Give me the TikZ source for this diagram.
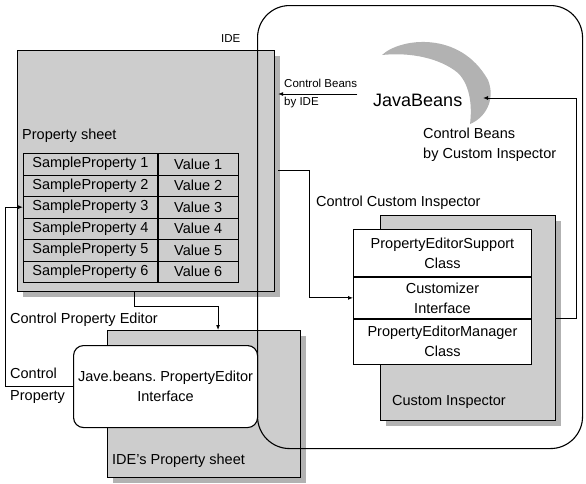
\documentclass[tikz,border=0pt]{standalone}
\usepackage{fontspec}
\setmainfont{Liberation Sans}
\usetikzlibrary{arrows.meta,shadows,calc}
\definecolor{raster}{RGB}{205,205,205}
\definecolor{rastershade}{RGB}{178,178,178}

\tikzset{
  sheet/.style={draw, line width=1.1pt, fill=raster, anchor=north west, inner sep=0pt,
    drop shadow={shadow xshift=5pt, shadow yshift=-5pt, fill=rastershade, opacity=1}},
  cell/.style={draw, line width=0.8pt, anchor=north west, inner sep=0pt, minimum height=21.5pt},
  partbox/.style={draw, line width=0.9pt, fill=white, anchor=north west, inner sep=0pt,
    minimum width=178pt, align=center},
  conn/.style={line width=0.9pt, -{Latex[length=5pt, width=4pt]}},
  txt/.style={inner sep=0pt, anchor=west, align=left},
  small/.style={font=\fontsize{11.5}{18}\selectfont},
}

\begin{document}
\begin{tikzpicture}[x=1pt, y=-1pt, font=\fontsize{14.5}{20}\selectfont]

    \useasboundingbox (0,0) rectangle (586,483);

    % gray sheets
    \node[sheet, minimum width=257pt, minimum height=241pt] (propsheet) at (17,50) {};
    \node[sheet, minimum width=193pt, minimum height=147pt] (ideps) at (107,330) {};
    \node[sheet, minimum width=175pt, minimum height=205pt] (inspector) at (380,215) {};

    % JavaBeans area
    \node[draw, line width=1.1pt, rounded corners=32pt, anchor=north west, inner sep=0pt,
          minimum width=325pt, minimum height=443pt] (beanarea) at (257,5) {};
    \fill[rastershade] (382,55) .. controls (400,38) and (460,30) .. (488,80)
        .. controls (496,100) and (485,118) .. (470,124)
        .. controls (472,108) and (471,86) .. (458,73)
        .. controls (440,58) and (410,52) .. (382,55);

    % property table
    \foreach \i [evaluate=\i as \ty using 153+(\i-1)*21.5] in {1,...,6} {
        \node[cell, minimum width=134pt] (sp\i) at (23,\ty) {SampleProperty \i};
        \node[cell, minimum width=80pt] (val\i) at (sp\i.north east) {Value \i};
    }

    % white boxes
    \node[draw, line width=1.1pt, fill=white, rounded corners=10pt, anchor=north west, inner sep=0pt,
          minimum width=184pt, minimum height=82pt, align=center] (pe) at (73,345)
          {Jave.beans.\ PropertyEditor\\Interface};
    \node[partbox, minimum height=47pt] (pes) at (353,229) {PropertyEditorSupport\\Class};
    \node[partbox, minimum height=41pt] (custz) at (pes.south west) {Customizer\\Interface};
    \node[partbox, minimum height=45pt] (pem) at (custz.south west) {PropertyEditorManager\\Class};

    % labels
    \node[txt, small] (idelbl) at (221,39) {IDE};
    \node[txt] (pslbl) at (22,136) {Property sheet};
    \node[txt, small] (cbide) at (284,94) {Control Beans\\by IDE};
    \node[txt, font=\fontsize{18}{20}\selectfont] (jb) at (373,100) {JavaBeans};
    \node[txt] (cbci) at (423,145) {Control Beans\\by Custom Inspector};
    \node[txt] (ccilbl) at (316,203) {Control Custom Inspector};
    \node[txt] (cpelbl) at (10,320) {Control Property Editor};
    \node[txt, font=\fontsize{14.5}{22}\selectfont] (cplbl) at (10,386) {Control\\Property};
    \node[txt] (cilbl) at (392,402) {Custom Inspector};
    \node[txt] (idepslbl) at (112,461) {IDE's Property sheet};

    % connectors
    \coordinate (beans) at (483,98);
    \draw[conn] (cbide.east) -- ($(propsheet.east |- cbide.east)+(3,0)$);
    \draw[conn] (inspector.east) -- ++(20,0) |- (beans);
    \draw[conn] ($(propsheet.north east)+(3,120)$) -| ($(custz.west)+(-44,0)$) -- (custz.west);
    \draw[conn] ([xshift=-12pt]propsheet.south) -- ++(0,14) -| ([xshift=14pt]ideps.north);
    \draw[conn] (pe.west) -- ++(-68,0) |- (sp3.west);

\end{tikzpicture}
\end{document}
